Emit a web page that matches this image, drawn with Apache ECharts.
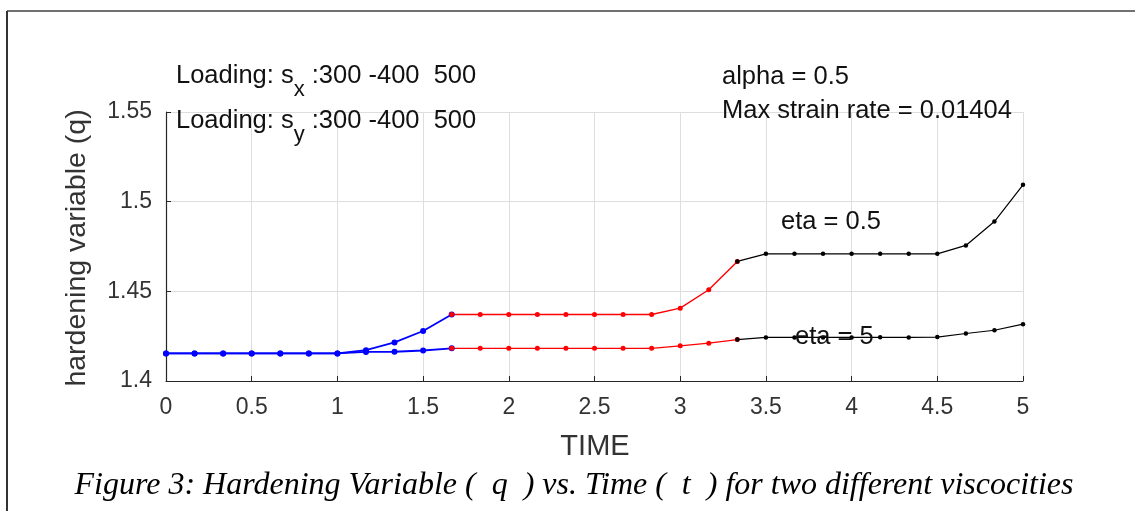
<!DOCTYPE html>
<html><head><meta charset="utf-8">
<script src="https://cdn.jsdelivr.net/npm/echarts@6/dist/echarts.min.js"></script>
<style>html,body{margin:0;padding:0;background:#fff}#c{width:1135px;height:511px}</style>
</head><body><div id="c"></div>
<script>
const xTicks = [0, 0.5, 1, 1.5, 2, 2.5, 3, 3.5, 4, 4.5, 5];
const yTicks = [1.4, 1.45, 1.5, 1.55];
const tBlue  = [0, 0.1667, 0.3333, 0.5, 0.6667, 0.8333, 1.0, 1.1667, 1.3333, 1.5, 1.6667];
const tRed   = [1.6667, 1.8333, 2.0, 2.1667, 2.3333, 2.5, 2.6667, 2.8333, 3.0, 3.1667, 3.3333];
const tBlack = [3.3333, 3.5, 3.6667, 3.8333, 4.0, 4.1667, 4.3333, 4.5, 4.6667, 4.8333, 5.0];
const blueEta05  = [1.4154, 1.4154, 1.4154, 1.4154, 1.4154, 1.4154, 1.4154, 1.4172, 1.4215, 1.4279, 1.4371];
const blueEta5   = [1.4154, 1.4154, 1.4154, 1.4154, 1.4154, 1.4154, 1.4154, 1.4162, 1.4163, 1.4170, 1.4182];
const redEta05   = [1.4371, 1.4371, 1.4371, 1.4371, 1.4371, 1.4371, 1.4371, 1.4371, 1.4406, 1.4509, 1.4667];
const redEta5    = [1.4182, 1.4182, 1.4182, 1.4182, 1.4182, 1.4182, 1.4182, 1.4182, 1.4196, 1.4211, 1.4231];
const blackEta05 = [1.4667, 1.4709, 1.4709, 1.4709, 1.4709, 1.4709, 1.4709, 1.4709, 1.4756, 1.4889, 1.5094];
const blackEta5  = [1.4231, 1.4243, 1.4243, 1.4243, 1.4243, 1.4244, 1.4243, 1.4245, 1.4265, 1.4283, 1.4317];

const pair = (t, v) => t.map((x, i) => [x, v[i]]);
function ser(t, v, color, w, s) {
  return { type: 'line', data: pair(t, v), symbol: 'circle', symbolSize: s,
    lineStyle: { color: color, width: w }, itemStyle: { color: color }, animation: false, z: 3 };
}
const chart = echarts.init(document.getElementById('c'));
const font = 'Liberation Sans, Arial, sans-serif';
const ann = 25.5;
function loadText(y, sub) {
  return { type: 'text', x: 176, y: y, z: 10, style: { verticalAlign: 'middle', rich: {
      a: { fontSize: ann, fontFamily: font, fill: '#111', verticalAlign: 'middle' },
      s: { fontSize: 22, fontFamily: font, fill: '#111', verticalAlign: 'middle', padding: [28, 0, 0, 0] } },
      text: '{a|Loading: s}{s|' + sub + '}{a| :300 -400  500}' } };
}
chart.setOption({
  backgroundColor: '#fff',
  grid: { left: 166, top: 112, width: 857, height: 269, containLabel: false },
  xAxis: { type: 'value', min: 0, max: 5, interval: 0.5,
    axisLine: { lineStyle: { color: '#262626', width: 1.2 } },
    axisTick: { inside: true, length: 5, lineStyle: { color: '#262626' } },
    axisLabel: { color: '#333', fontSize: 23, fontFamily: font, margin: 15,
      formatter: v => xTicks.includes(v) ? String(v) : '' },
    splitLine: { show: true, lineStyle: { color: '#dedede', width: 1 } } },
  yAxis: { type: 'value', min: 1.4, max: 1.55, interval: 0.05,
    axisLine: { show: true, lineStyle: { color: '#262626', width: 1.2 } },
    axisTick: { show: true, inside: true, length: 5, lineStyle: { color: '#262626' } },
    axisLabel: { color: '#333', fontSize: 23, fontFamily: font, margin: 14,
      formatter: v => { const m = yTicks.find(t => Math.abs(t - v) < 1e-6); return m === undefined ? '' : String(m); } },
    splitLine: { show: true, lineStyle: { color: '#dedede', width: 1 } } },
  series: [
    ser(tBlue, blueEta05, '#0000ff', 1.8, 6),
    ser(tBlue, blueEta5, '#0000ff', 1.8, 6),
    ser(tRed, redEta05, '#ff0000', 1.4, 5),
    ser(tRed, redEta5, '#ff0000', 1.4, 5),
    ser(tBlack, blackEta05, '#000000', 1.2, 4.5),
    ser(tBlack, blackEta5, '#000000', 1.2, 4.5)
  ],
  graphic: [
    { type: 'line', shape: { x1: 7, y1: 11, x2: 1135, y2: 11 }, style: { stroke: '#707070', lineWidth: 2 } },
    { type: 'line', shape: { x1: 7, y1: 11, x2: 7, y2: 511 }, style: { stroke: '#333', lineWidth: 2 } },
    loadText(76, 'x'),
    loadText(121, 'y'),
    { type: 'text', x: 722, y: 77, z: 10, style: { text: 'alpha = 0.5', fontSize: ann, fontFamily: font, fill: '#111', verticalAlign: 'middle' } },
    { type: 'text', x: 722, y: 111, z: 10, style: { text: 'Max strain rate = 0.01404', fontSize: ann, fontFamily: font, fill: '#111', verticalAlign: 'middle' } },
    { type: 'text', x: 781, y: 222, z: 10, style: { text: 'eta = 0.5', fontSize: ann, fontFamily: font, fill: '#111', verticalAlign: 'middle' } },
    { type: 'text', x: 795, y: 337, z: 10, style: { text: 'eta = 5', fontSize: ann, fontFamily: font, fill: '#111', verticalAlign: 'middle' } },
    { type: 'text', x: 77, y: 248, rotation: Math.PI / 2, z: 10,
      style: { text: 'hardening variable (q)', fontSize: 28.5, fontFamily: font, fill: '#333', align: 'center', verticalAlign: 'middle' } },
    { type: 'text', x: 595, y: 447, z: 10,
      style: { text: 'TIME', fontSize: 29, fontFamily: font, fill: '#333', align: 'center', verticalAlign: 'middle' } },
    { type: 'text', x: 574, y: 486, z: 10,
      style: { text: 'Figure 3: Hardening Variable (  q  ) vs. Time (  t  ) for two different viscocities', fontSize: 32, fontStyle: 'italic',
        fontFamily: 'Liberation Serif, Times New Roman, serif', fill: '#000', align: 'center', verticalAlign: 'middle' } }
  ]
});
</script></body></html>
